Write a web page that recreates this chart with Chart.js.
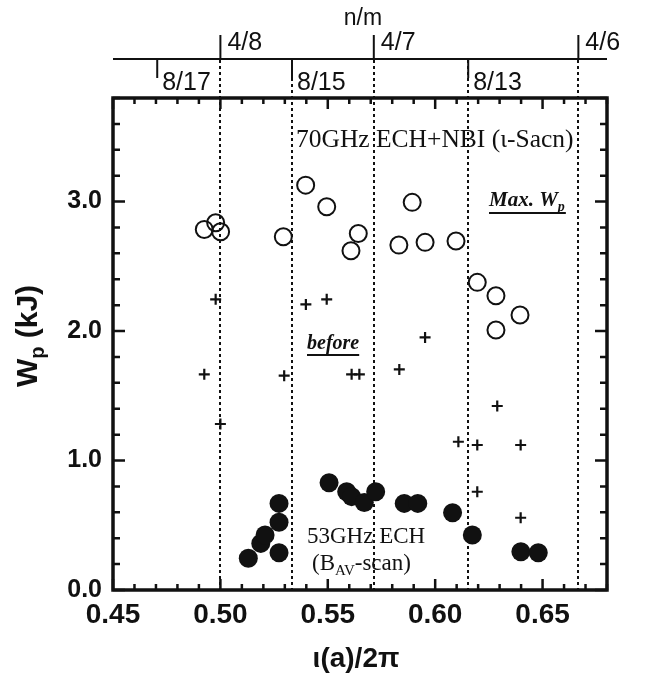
<!DOCTYPE html>
<html>
<head>
<meta charset="utf-8">
<script src="https://cdn.jsdelivr.net/npm/chart.js@4"></script>
<style>
html,body{margin:0;padding:0;background:#fff;}
#wrap{width:645px;height:675px;}
</style>
</head>
<body>
<div id="wrap"><canvas id="c" width="645" height="675"></canvas></div>
<script>
// ---- data ----
const maxWpIota = [0.4925,0.4978,0.5001,0.5293,0.5397,0.5495,0.5642,0.5608,0.5831,0.5893,0.5953,0.6097,0.6196,0.6283,0.6283,0.6395];
const maxWpVals = [2.785,2.836,2.767,2.728,3.127,2.960,2.754,2.620,2.664,2.994,2.685,2.695,2.376,2.273,2.008,2.124];

const beforeIota = [0.4978,0.5398,0.5495,0.5953,0.4925,0.5297,0.5611,0.5647,0.5833,0.5000,0.6289,0.6108,0.6196,0.6398,0.6196,0.6398];
const beforeVals = [2.245,2.206,2.245,1.951,1.666,1.655,1.666,1.666,1.704,1.282,1.421,1.145,1.120,1.120,0.759,0.558];

const ech53Iota = [0.5130,0.5188,0.5208,0.5273,0.5273,0.5273,0.5506,0.5588,0.5611,0.5670,0.5723,0.5856,0.5919,0.6081,0.6173,0.6399,0.6480];
const ech53Vals = [0.245,0.360,0.425,0.669,0.523,0.288,0.829,0.759,0.721,0.675,0.759,0.669,0.669,0.597,0.425,0.296,0.288];

const xTickLabels = ['0.45','0.50','0.55','0.60','0.65'];
const yTickLabels = ['0.0','1.0','2.0','3.0'];
const upperRatios = ['4/8','4/7','4/6'];
const lowerRatios = ['8/17','8/15','8/13'];
const dottedRatios = ['4/8','8/15','4/7','8/13','4/6'];

const ratioVal = s => { const p = s.split('/'); return (+p[0]) / (+p[1]); };
const pts = (xs, ys) => xs.map((x, i) => ({x: x, y: ys[i]}));

const SANS = '"Liberation Sans", Arial, sans-serif';
const SERIF = '"Liberation Serif", "Times New Roman", serif';

const decor = {
  id: 'decor',
  beforeDatasetsDraw(chart) {
    const ctx = chart.ctx, a = chart.chartArea;
    const xs = chart.scales.x;
    ctx.save();
    ctx.strokeStyle = '#111';
    ctx.lineWidth = 2;
    ctx.setLineDash([3, 3]);
    dottedRatios.forEach(r => {
      const px = Math.round(xs.getPixelForValue(ratioVal(r)));
      ctx.beginPath(); ctx.moveTo(px, 60); ctx.lineTo(px, a.bottom); ctx.stroke();
    });
    ctx.setLineDash([]);
    ctx.restore();
  },
  afterDatasetsDraw(chart) {
    const ctx = chart.ctx, a = chart.chartArea;
    const xs = chart.scales.x, ys = chart.scales.y;
    ctx.save();
    ctx.strokeStyle = '#111';
    ctx.fillStyle = '#111';
    // frame
    ctx.lineWidth = 3.5;
    ctx.strokeRect(a.left, a.top, a.right - a.left, a.bottom - a.top);
    // x ticks inward (top & bottom)
    ctx.lineWidth = 2.5;
    for (let i = 0; i <= 23; i++) {
      const v = 0.45 + i * 0.01;
      const px = xs.getPixelForValue(v);
      const L = (i % 5 === 0) ? 11 : 6;
      ctx.beginPath();
      ctx.moveTo(px, a.bottom); ctx.lineTo(px, a.bottom - L);
      ctx.moveTo(px, a.top); ctx.lineTo(px, a.top + L);
      ctx.stroke();
    }
    // y ticks inward (left & right)
    for (let i = 0; i <= 19; i++) {
      const v = i * 0.2;
      const py = ys.getPixelForValue(v);
      const L = (i % 5 === 0) ? 12 : 7;
      ctx.beginPath();
      ctx.moveTo(a.left, py); ctx.lineTo(a.left + L, py);
      ctx.moveTo(a.right, py); ctx.lineTo(a.right - L, py);
      ctx.stroke();
    }
    // top n/m axis
    const topY = 59;
    ctx.lineWidth = 2;
    ctx.beginPath(); ctx.moveTo(a.left, topY); ctx.lineTo(a.right, topY); ctx.stroke();
    ctx.font = '25px ' + SANS;
    ctx.textAlign = 'left'; ctx.textBaseline = 'alphabetic';
    upperRatios.forEach(r => {
      const px = xs.getPixelForValue(ratioVal(r));
      ctx.beginPath(); ctx.moveTo(px, 35); ctx.lineTo(px, topY); ctx.stroke();
      ctx.fillText(r, px + 7, 50);
    });
    lowerRatios.forEach(r => {
      const px = xs.getPixelForValue(ratioVal(r));
      ctx.beginPath(); ctx.moveTo(px, topY); ctx.lineTo(px, 78); ctx.stroke();
      ctx.fillText(r, px + 5, 90);
    });
    ctx.font = '23px ' + SANS;
    ctx.textAlign = 'center';
    ctx.fillText('n/m', 363, 25);

    // axis titles
    ctx.font = 'bold 28px ' + SANS;
    ctx.textAlign = 'center'; ctx.textBaseline = 'middle';
    ctx.fillText('\u03b9(a)/2\u03c0', 356, 659);

    ctx.save();
    ctx.translate(37, 336);
    ctx.rotate(-Math.PI / 2);
    ctx.textAlign = 'left'; ctx.textBaseline = 'alphabetic';
    const f1 = 'bold 30px ' + SANS, f2 = 'bold 20px ' + SANS;
    ctx.font = f1; const wW = ctx.measureText('W').width;
    ctx.font = f2; const wP = ctx.measureText('p').width;
    ctx.font = f1; const wK = ctx.measureText(' (kJ)').width;
    const tot = wW + wP + wK;
    let x0 = -tot / 2;
    ctx.font = f1; ctx.fillText('W', x0, 0); x0 += wW;
    ctx.font = f2; ctx.fillText('p', x0, 7); x0 += wP;
    ctx.font = f1; ctx.fillText(' (kJ)', x0, 0);
    ctx.restore();

    // annotations
    ctx.textAlign = 'left'; ctx.textBaseline = 'alphabetic';
    ctx.font = '25.5px ' + SERIF;
    ctx.fillText('70GHz ECH+NBI (\u03b9-Sacn)', 296, 147);

    ctx.font = 'italic bold 21px ' + SERIF;
    const w1 = ctx.measureText('Max. W').width;
    ctx.fillText('Max. W', 489, 206);
    ctx.font = 'italic bold 14px ' + SERIF;
    const w2 = ctx.measureText('p').width;
    ctx.fillText('p', 489 + w1, 211);
    ctx.lineWidth = 2;
    ctx.beginPath(); ctx.moveTo(489, 213); ctx.lineTo(489 + w1 + w2 + 1, 213); ctx.stroke();

    ctx.font = 'italic bold 20px ' + SERIF;
    const wb = ctx.measureText('before').width;
    ctx.fillText('before', 307, 349);
    ctx.beginPath(); ctx.moveTo(307, 355); ctx.lineTo(307 + wb, 355); ctx.stroke();

    ctx.font = '23px ' + SERIF;
    ctx.fillText('53GHz ECH', 307, 543);
    let xx = 312;
    ctx.fillText('(B', xx, 570); xx += ctx.measureText('(B').width;
    ctx.font = '15px ' + SERIF;
    ctx.fillText('AV', xx, 575); xx += ctx.measureText('AV').width;
    ctx.font = '23px ' + SERIF;
    ctx.fillText('-scan)', xx, 570);
    ctx.restore();
  }
};

new Chart(document.getElementById('c'), {
  type: 'scatter',
  data: {
    datasets: [
      { label: 'Max. Wp (70GHz ECH+NBI)', data: pts(maxWpIota, maxWpVals),
        pointStyle: 'circle', pointRadius: 8.5, borderColor: '#111', borderWidth: 2,
        backgroundColor: 'rgba(0,0,0,0)' },
      { label: 'before', data: pts(beforeIota, beforeVals),
        pointStyle: 'cross', pointRadius: 5.5, borderColor: '#111', borderWidth: 2.2,
        backgroundColor: '#111' },
      { label: '53GHz ECH (BAV-scan)', data: pts(ech53Iota, ech53Vals),
        pointStyle: 'circle', pointRadius: 9.5, borderColor: '#111', borderWidth: 0,
        backgroundColor: '#111' }
    ]
  },
  options: {
    responsive: false,
    animation: false,
    devicePixelRatio: 1,
    layout: { padding: { left: 0, top: 98, right: 38, bottom: 0 } },
    plugins: { legend: { display: false }, tooltip: { enabled: false } },
    scales: {
      x: {
        type: 'linear', min: 0.45, max: 0.68,
        grid: { display: false, drawTicks: false },
        border: { display: false },
        afterBuildTicks: s => { s.ticks = xTickLabels.map(t => ({ value: parseFloat(t) })); },
        afterFit: s => { s.height = 85; },
        ticks: {
          autoSkip: false, maxRotation: 0, padding: 8, color: '#111',
          font: { family: SANS, size: 28, weight: 'bold' },
          callback: (v, i) => xTickLabels[i]
        }
      },
      y: {
        type: 'linear', min: 0, max: 3.8,
        grid: { display: false, drawTicks: false },
        border: { display: false },
        afterBuildTicks: s => { s.ticks = yTickLabels.map(t => ({ value: parseFloat(t) })); },
        afterFit: s => { s.width = 113; },
        ticks: {
          autoSkip: false, padding: 11, color: '#111',
          font: { family: SANS, size: 25, weight: 'bold' },
          callback: (v, i) => yTickLabels[i]
        }
      }
    }
  },
  plugins: [decor]
});
</script>
</body>
</html>
